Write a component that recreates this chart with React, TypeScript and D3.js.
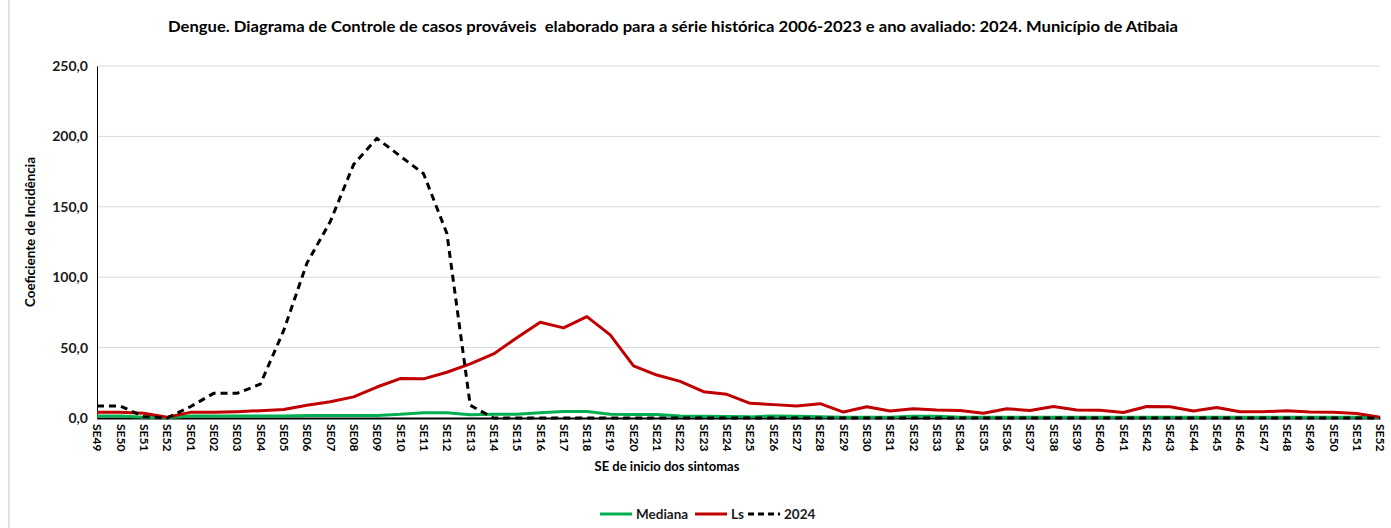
import React, { useEffect, useRef } from 'react';
import * as d3 from 'd3';

// Semanas epidemiológicas (SE49 do ano anterior até SE52)
const weeks: string[] = ['SE49', 'SE50', 'SE51', 'SE52'].concat(
  d3.range(1, 53).map(w => 'SE' + String(w).padStart(2, '0'))
);

const mediana = [
  1.5, 1.5, 0.5, 0.2, 1.5, 1.5, 1.5, 1.5, 1.5, 1.8, 1.8, 1.8, 1.8, 2.6, 3.8, 3.8,
  2.3, 2.6, 2.6, 3.8, 4.6, 4.6, 2.6, 2.4, 2.4, 1.4, 1.2, 1.0, 0.8, 1.5,
  1.2, 0.8, 0.6, 0.6, 0.6, 1.2, 1.2, 0.6, 0.5, 0.5, 0.5, 0.6, 0.6, 0.5, 0.5, 0.5,
  0.5, 0.5, 0.5, 0.5, 0.5, 0.5, 0.5, 0.5, 0.5, 0.3
];

const ls = [
  4.0, 4.0, 3.3, 0.5, 4.0, 4.0, 4.5, 5.2, 6.0, 9.0, 11.5, 15.0, 22.0, 28.0, 27.8, 32.5,
  38.5, 45.5, 57.0, 68.0, 64.0, 72.0, 59.0, 37.0, 30.5, 26.0, 18.7, 16.8, 10.4, 9.5,
  8.5, 10.2, 4.2, 8.0, 5.0, 6.6, 5.7, 5.3, 3.4, 6.6, 5.3, 8.2, 5.7, 5.5, 3.9, 8.2,
  8.0, 5.0, 7.4, 4.5, 4.5, 5.1, 4.3, 4.0, 3.2, 0.5
];

const ano2024 = [
  8.5, 8.5, 1.0, 0.0, 8.0, 17.5, 17.5, 24.0, 62.0, 110.0, 139.5, 180.0, 198.6, 186.0, 173.5, 131.0,
  9.0, 0.0, 0.0, 0.0, 0.0, 0.0, 0.0, 0.0, 0.0, 0.0, 0.0, 0.0, 0.0, 0.0,
  0.0, 0.0, 0.0, 0.0, 0.0, 0.0, 0.0, 0.0, 0.0, 0.0, 0.0, 0.0, 0.0, 0.0, 0.0, 0.0,
  0.0, 0.0, 0.0, 0.0, 0.0, 0.0, 0.0, 0.0, 0.0, 0.0
];

const yTicks = [0, 50, 100, 150, 200, 250];

const series = [
  { name: 'Mediana', values: mediana, color: '#00b050', dash: null as string | null },
  { name: 'Ls', values: ls, color: '#c00000', dash: null as string | null },
  { name: '2024', values: ano2024, color: '#000000', dash: '7,5' }
];

const FONT = 'Lato, "Open Sans", sans-serif';

export default function App() {
  const svgRef = useRef<SVGSVGElement>(null);

  useEffect(() => {
    if (!svgRef.current) return;
    const width = 1391;
    const height = 528;
    const margin = { top: 66, right: 11, bottom: 110, left: 97 };

    d3.select(svgRef.current).selectAll('*').remove();
    const svg = d3.select(svgRef.current).attr('width', width).attr('height', height);

    svg.append('rect').attr('width', width).attr('height', height).attr('fill', '#ffffff');

    // faint spreadsheet border remnants
    svg.append('line')
      .attr('x1', 9).attr('x2', 9).attr('y1', 0).attr('y2', height)
      .attr('stroke', '#dde0ee').attr('stroke-width', 2);

    const xScale = d3.scaleLinear()
      .domain([0, weeks.length - 1])
      .range([margin.left, width - margin.right]);

    const yScale = d3.scaleLinear()
      .domain([0, 250])
      .range([height - margin.bottom, margin.top]);

    // gridlines
    svg.append('g')
      .selectAll('line')
      .data(yTicks.filter(t => t > 0))
      .enter()
      .append('line')
      .attr('x1', margin.left)
      .attr('x2', width - margin.right)
      .attr('y1', d => yScale(d))
      .attr('y2', d => yScale(d))
      .attr('stroke', '#d9d9d9')
      .attr('stroke-width', 1);

    // y axis
    const yAxis = d3.axisLeft(yScale)
      .tickValues(yTicks)
      .tickSize(0)
      .tickPadding(9)
      .tickFormat(d => d3.format('.1f')(d as number).replace('.', ','));

    const yg = svg.append('g')
      .attr('transform', `translate(${margin.left},0)`)
      .call(yAxis);
    yg.select('.domain').attr('stroke', '#000').attr('stroke-width', 1);
    yg.selectAll('text')
      .style('font-family', FONT)
      .style('font-size', '14px')
      .style('font-weight', '700')
      .style('fill', '#1a1a1a');

    // x axis
    const xAxis = d3.axisBottom(xScale)
      .tickValues(d3.range(weeks.length))
      .tickSize(0)
      .tickFormat(i => weeks[i as number]);

    const xg = svg.append('g')
      .attr('transform', `translate(0,${yScale(0)})`)
      .call(xAxis);
    xg.select('.domain').attr('stroke', '#000').attr('stroke-width', 2);
    xg.selectAll('text')
      .attr('transform', 'rotate(90)')
      .attr('x', 6)
      .attr('y', 0)
      .attr('dy', '0.35em')
      .style('text-anchor', 'start')
      .style('font-family', FONT)
      .style('font-size', '12px')
      .style('font-weight', '700')
      .style('fill', '#000');

    // lines
    const line = d3.line<number>()
      .x((_d, i) => xScale(i))
      .y(d => yScale(d));

    series.forEach(s => {
      svg.append('path')
        .datum(s.values)
        .attr('fill', 'none')
        .attr('stroke', s.color)
        .attr('stroke-width', 3)
        .attr('stroke-linejoin', 'round')
        .attr('stroke-dasharray', s.dash)
        .attr('d', line);
    });

    // title
    svg.append('text')
      .attr('x', 168)
      .attr('y', 32)
      .attr('textLength', 1010)
      .attr('lengthAdjust', 'spacingAndGlyphs')
      .style('white-space', 'pre')
      .style('font-family', FONT)
      .style('font-size', '16px')
      .style('font-weight', '700')
      .style('fill', '#000')
      .text('Dengue. Diagrama de Controle de casos prováveis  elaborado para a série histórica 2006-2023 e ano avaliado: 2024. Município de Atibaia');

    // axis titles
    svg.append('text')
      .attr('transform', 'rotate(-90)')
      .attr('x', -232)
      .attr('y', 35)
      .attr('text-anchor', 'middle')
      .attr('textLength', 150)
      .attr('lengthAdjust', 'spacingAndGlyphs')
      .style('font-family', FONT)
      .style('font-size', '13px')
      .style('font-weight', '700')
      .style('fill', '#000')
      .text('Coeficiente de Incidência');

    svg.append('text')
      .attr('x', 667)
      .attr('y', 471)
      .attr('text-anchor', 'middle')
      .style('font-family', FONT)
      .style('font-size', '13px')
      .style('font-weight', '700')
      .style('fill', '#000')
      .text('SE de inicio dos sintomas');

    // legend
    const legendItems = [
      { s: series[0], x: 600 },
      { s: series[1], x: 695 },
      { s: series[2], x: 748 }
    ];
    const ly = 514;
    legendItems.forEach(({ s, x }) => {
      svg.append('line')
        .attr('x1', x).attr('x2', x + 32)
        .attr('y1', ly).attr('y2', ly)
        .attr('stroke', s.color)
        .attr('stroke-width', 3)
        .attr('stroke-dasharray', s.dash ? '6,4' : null);
      svg.append('text')
        .attr('x', x + 36)
        .attr('y', ly)
        .attr('dy', '0.35em')
        .style('font-family', FONT)
        .style('font-size', '13.5px')
        .style('font-weight', '700')
        .style('fill', '#1a1a1a')
        .text(s.name);
    });
  }, []);

  return (
    <div style={{ position: 'absolute', left: 0, top: 0 }}>
      <svg ref={svgRef} style={{ display: 'block' }} />
    </div>
  );
}
